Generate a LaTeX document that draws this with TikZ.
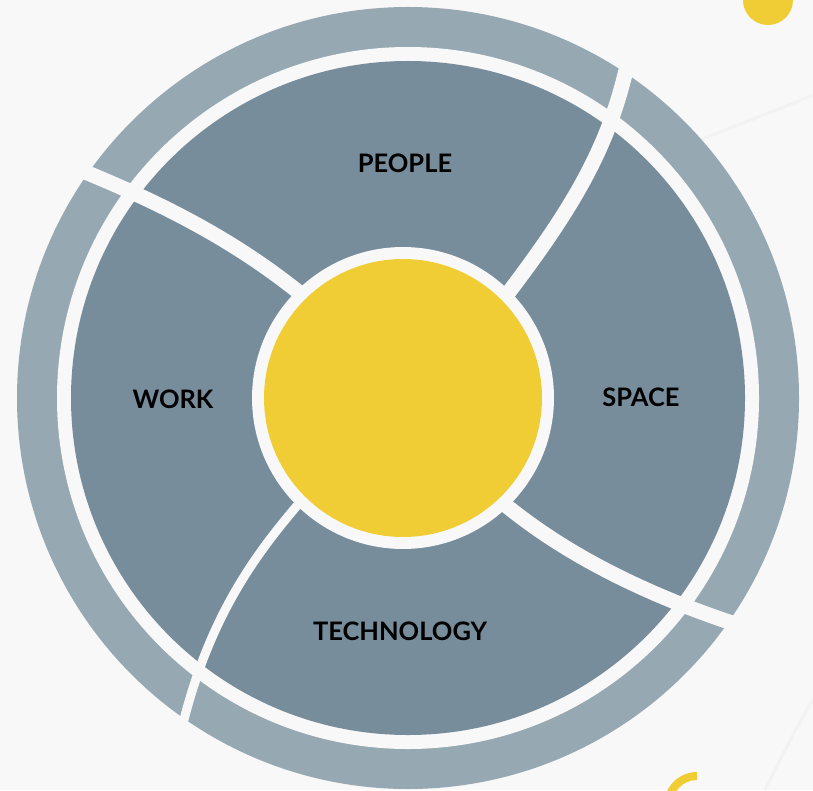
\documentclass[tikz,border=0pt]{standalone}
\usepackage{fontspec}
\setmainfont{Lato}
\definecolor{slate}{HTML}{778D9C}
\definecolor{paleslate}{HTML}{96A8B2}
\definecolor{sun}{HTML}{F0CC35}
\definecolor{paper}{HTML}{F8F8F8}
\begin{document}
\begin{tikzpicture}[x=0.02cm,y=-0.02cm,
    divider/.style={draw=paper,line width=0.3cm,line cap=round},
    thindivider/.style={divider,line width=0.18cm}]

        \useasboundingbox (0,0) rectangle (813,790);
        \clip (0,0) rectangle (813,790);
        \fill[paper] (0,0) rectangle (813,790);

        % faint background strokes
        \draw[black!5,line width=0.06cm] (700,140) .. controls (750,120) and (790,105) .. (813,95);
        \draw[black!5,line width=0.06cm] (765,790) .. controls (785,750) and (800,720) .. (813,700);

        % corner accents
        \fill[sun] (768,0) circle (25);
        \begin{scope}
          \clip (600,700) rectangle (697,790);
          \fill[sun,even odd rule] (697,805) circle (33) (697,805) circle (25);
        \end{scope}

        % rings
        \fill[paleslate] (408,398) circle (391);
        \fill[paper] (408,398) circle (351);
        \fill[slate] (408,398) circle (337);

        \coordinate (ne-in)  at (506,296);
        \coordinate (nw-in)  at (301,294);
        \coordinate (sw-in)  at (301,501);
        \coordinate (se-in)  at (503,503);
        \coordinate (ne-out) at (632,40);
        \coordinate (nw-out) at (60,162);
        \coordinate (sw-out) at (178,745);
        \coordinate (se-out) at (760,632);

        \draw[divider] (ne-in) .. controls (575,205) and (615,140) .. (ne-out);
        \draw[divider] (nw-in) .. controls (240,245) and (170,205) .. (nw-out);
        \draw[thindivider] (sw-in) .. controls (255,555) and (205,620) .. (sw-out);
        \draw[divider] (se-in) .. controls (560,550) and (640,595) .. (se-out);

        \begin{scope}[every node/.style={circle,inner sep=0pt}]
          \node[fill=paper,minimum size=6.04cm] (hubring) at (403,398) {};
          \node[fill=sun,minimum size=5.56cm]   (hub)     at (403,398) {};
        \end{scope}

        \begin{scope}[every node/.style={font=\bfseries\fontsize{14.5}{17}\selectfont,text=black}]
          \node (people)     at (405,163) {PEOPLE};
          \node (work)       at (173,399) {WORK};
          \node (space)      at (641,397) {SPACE};
          \node (technology) at (400,631) {TECHNOLOGY};
        \end{scope}

      \end{tikzpicture}
\end{document}
